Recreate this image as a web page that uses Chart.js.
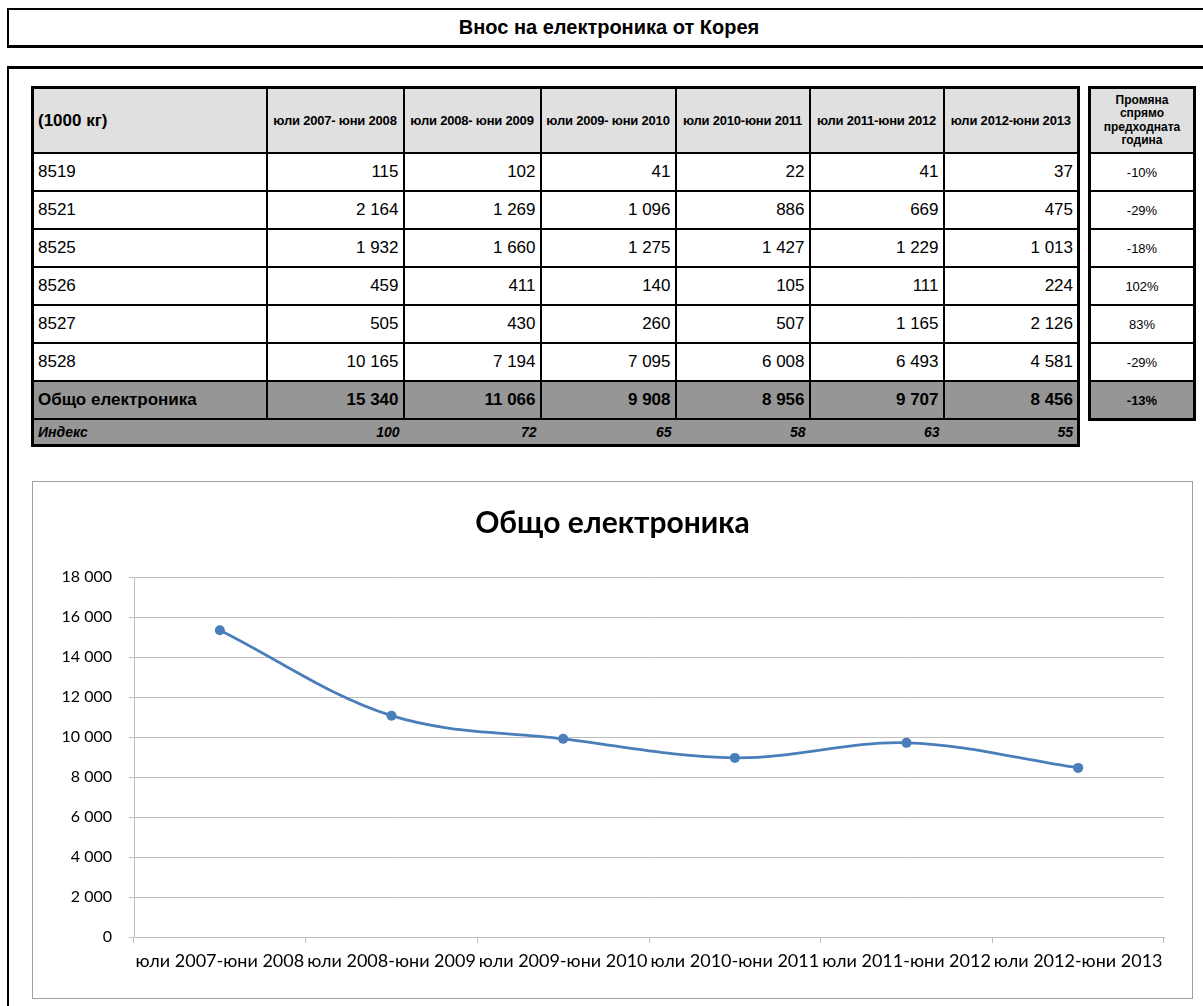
<!DOCTYPE html>
<html>
<head>
    <meta charset="utf-8">
    <title>Внос на електроника от Корея</title>
    <script src="https://cdn.jsdelivr.net/npm/chart.js"></script>

    <style>
        body {
            margin: 0;
            width: 1203px;
            height: 1006px;
            overflow: hidden;
            background: #fff;
            font-family: "Liberation Sans", Arial, sans-serif;
            position: relative;
        }

        .title-box {
            position: absolute;
            left: 7px;
            top: 8px;
            width: 1300px;
            height: 35px;
            border-top: 2px solid #000;
            border-bottom: 3px solid #000;
            border-left: 2px solid #000;
        }

        .title-box span {
            position: absolute;
            left: 0;
            width: 1200px;
            top: 6px;
            text-align: center;
            font-weight: bold;
            font-size: 20px;
        }

        .main-box {
            position: absolute;
            left: 7px;
            top: 66px;
            width: 1300px;
            height: 1000px;
            border-top: 3px solid #000;
            border-left: 2px solid #000;
        }

        table {
            position: absolute;
            border-collapse: collapse;
            border: 3px solid #000;
            table-layout: fixed;
        }

        td {
            border: 2px solid #000;
            padding: 0 4px;
            font-size: 17px;
            white-space: nowrap;
            overflow: hidden;
        }

        #mainTable { left: 31px; top: 86px; }
        #changeTable { left: 1088px; top: 86px; }

        tr.head td {
            background: #e0e0e0;
            height: 63px;
            font-weight: bold;
            font-size: 13px;
            letter-spacing: -0.2px;
            text-align: center;
            padding: 0;
        }

        tr.head td.unit {
            font-size: 17px;
            letter-spacing: 0;
            text-align: left;
            padding-left: 4px;
        }

        tr.row td { height: 36px; text-align: right; }
        tr.row td.code { text-align: left; }

        tr.total td {
            height: 36px;
            background: #969696;
            font-weight: bold;
            text-align: right;
        }
        tr.total td.code { text-align: left; }

        tr.idx td {
            height: 24px;
            background: #969696;
            font-weight: bold;
            font-style: italic;
            font-size: 14px;
            text-align: right;
            border-left: none;
            border-right: none;
        }
        tr.idx td.code { text-align: left; }

        #changeTable td { text-align: center; font-size: 13px; padding: 0; }
        #changeTable tr.head td { font-size: 12px; line-height: 13.5px; letter-spacing: 0; }

        .chart-box {
            position: absolute;
            left: 32px;
            top: 481px;
            width: 1159px;
            height: 516px;
            border: 1px solid #a0a0a0;
        }
    </style>
</head>

<body>
    <div class="title-box"><span>Внос на електроника от Корея</span></div>
    <div class="main-box"></div>

    <table id="mainTable"></table>
    <table id="changeTable"></table>

    <div class="chart-box">
        <canvas id="graph"></canvas>
    </div>

    <script>
        // table data (1000 kg)
        var headerLabels = ["юли 2007- юни 2008", "юли 2008- юни 2009", "юли 2009- юни 2010",
                            "юли 2010-юни 2011", "юли 2011-юни 2012", "юли 2012-юни 2013"];
        var codes = ["8519", "8521", "8525", "8526", "8527", "8528"];
        var v8519 = [115, 102, 41, 22, 41, 37];
        var v8521 = [2164, 1269, 1096, 886, 669, 475];
        var v8525 = [1932, 1660, 1275, 1427, 1229, 1013];
        var v8526 = [459, 411, 140, 105, 111, 224];
        var v8527 = [505, 430, 260, 507, 1165, 2126];
        var v8528 = [10165, 7194, 7095, 6008, 6493, 4581];
        var totals = [15340, 11066, 9908, 8956, 9707, 8456];
        var indexValues = [100, 72, 65, 58, 63, 55];
        var changes = ["-10%", "-29%", "-18%", "102%", "83%", "-29%"];
        var totalChange = "-13%";

        // chart data
        var chartLabels = ["юли 2007-юни 2008", "юли 2008-юни 2009", "юли 2009-юни 2010",
                           "юли 2010-юни 2011", "юли 2011-юни 2012", "юли 2012-юни 2013"];
        var yTicks = [0, 2000, 4000, 6000, 8000, 10000, 12000, 14000, 16000, 18000];

        var colWidths = [234, 137, 137, 135, 134, 134, 135];

        function fmt(n) {
            return String(n).replace(/\B(?=(\d{3})+(?!\d))/g, " ");
        }

        function buildMainTable() {
            var rows = [v8519, v8521, v8525, v8526, v8527, v8528];
            var html = "<colgroup>";
            colWidths.forEach(function (w) { html += '<col style="width:' + w + 'px">'; });
            html += "</colgroup>";

            html += '<tr class="head"><td class="unit">(1000 кг)</td>';
            headerLabels.forEach(function (h) { html += "<td>" + h + "</td>"; });
            html += "</tr>";

            for (var i = 0; i < codes.length; i++) {
                html += '<tr class="row"><td class="code">' + codes[i] + "</td>";
                rows[i].forEach(function (v) { html += "<td>" + fmt(v) + "</td>"; });
                html += "</tr>";
            }

            html += '<tr class="total"><td class="code">Общо електроника</td>';
            totals.forEach(function (v) { html += "<td>" + fmt(v) + "</td>"; });
            html += "</tr>";

            html += '<tr class="idx"><td class="code">Индекс</td>';
            indexValues.forEach(function (v) { html += "<td>" + v + "</td>"; });
            html += "</tr>";

            document.getElementById("mainTable").innerHTML = html;
        }

        function buildChangeTable() {
            var html = '<colgroup><col style="width:105px"></colgroup>';
            html += '<tr class="head"><td>Промяна<br>спрямо<br>предходната<br>година</td></tr>';
            changes.forEach(function (c) { html += '<tr class="row"><td>' + c + "</td></tr>"; });
            html += '<tr class="total"><td>' + totalChange + "</td></tr>";
            document.getElementById("changeTable").innerHTML = html;
        }

        buildMainTable();
        buildChangeTable();

        var gridColor = "#bfbfbf";
        var ctx = document.getElementById("graph").getContext("2d");
        new Chart(ctx, {
            type: "line",
            data: {
                labels: chartLabels,
                datasets: [{
                    label: "Общо електроника",
                    data: totals,
                    borderColor: "#4a7ebb",
                    backgroundColor: "#4a7ebb",
                    borderWidth: 2.75,
                    pointRadius: 5,
                    pointBorderWidth: 0,
                    tension: 0.35,
                    fill: false
                }]
            },
            options: {
                responsive: true,
                maintainAspectRatio: false,
                animation: false,
                layout: { padding: { left: 28, right: 28, top: 0, bottom: 0 } },
                plugins: {
                    legend: { display: false },
                    tooltip: { enabled: false },
                    title: {
                        display: true,
                        text: "Общо електроника",
                        color: "#000",
                        font: { family: "Lato", size: 30, weight: "bold" },
                        padding: { top: 23, bottom: 36 }
                    }
                },
                scales: {
                    x: {
                        offset: true,
                        grid: { offset: true, drawOnChartArea: false, tickLength: 6, color: gridColor },
                        border: { color: gridColor },
                        ticks: {
                            color: "#000",
                            font: { family: "Lato", size: 18 },
                            maxRotation: 0,
                            autoSkip: false,
                            padding: 7
                        },
                        afterFit: function (scale) { scale.height = 61; }
                    },
                    y: {
                        min: 0,
                        max: 18000,
                        afterBuildTicks: function (scale) {
                            scale.ticks = yTicks.map(function (v) { return { value: v }; });
                        },
                        grid: { color: gridColor, tickLength: 5 },
                        border: { color: gridColor },
                        ticks: {
                            color: "#000",
                            font: { family: "Lato", size: 16 },
                            padding: 17,
                            callback: function (value) { return fmt(value); }
                        },
                        afterFit: function (scale) { scale.width = 73; }
                    }
                }
            }
        });
    </script>
</body>
</html>
